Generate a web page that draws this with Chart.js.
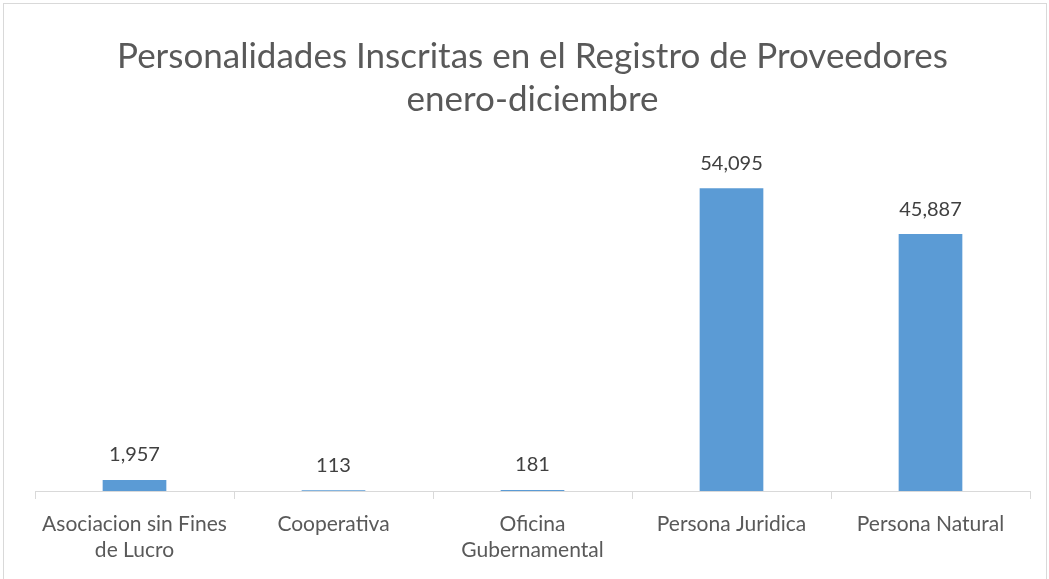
<!DOCTYPE html>
<html>
<head>
<meta charset="utf-8">
<script src="https://cdn.jsdelivr.net/npm/chart.js@4"></script>
<style>
  body { margin: 0; background: #fff; overflow: hidden; }
  #wrap { position: absolute; left: 3px; top: 3px; width: 1042px; height: 600px; border: 1px solid #d9d9d9; }
  canvas { display: block; }
</style>
</head>
<body>
<div id="wrap"><canvas id="chart" width="1042" height="590"></canvas></div>
<script>
// categories and values
const categories = [['Asociacion sin Fines', 'de Lucro'], 'Cooperativa', ['Oficina', 'Gubernamental'], 'Persona Juridica', 'Persona Natural'];
const inscritas = [1957, 113, 181, 54095, 45887];
const titleLines = ['Personalidades Inscritas en el Registro de Proveedores', 'enero-diciembre'];

const FONT = 'Lato, "Open Sans", sans-serif';

// value labels above bars
const barLabels = {
  id: 'barLabels',
  afterDatasetsDraw(chart) {
    const ctx = chart.ctx;
    const meta = chart.getDatasetMeta(0);
    ctx.save();
    ctx.font = '20px ' + FONT;
    ctx.fillStyle = '#404040';
    ctx.textAlign = 'center';
    ctx.textBaseline = 'middle';
    meta.data.forEach((bar, i) => {
      ctx.fillText(inscritas[i].toLocaleString('en-US'), bar.x, bar.y - 25);
    });
    ctx.restore();
  }
};

new Chart(document.getElementById('chart'), {
  type: 'bar',
  data: {
    labels: categories,
    datasets: [{ data: inscritas, backgroundColor: '#5b9bd5', categoryPercentage: 1, barPercentage: 0.32 }]
  },
  options: {
    responsive: false, animation: false,
    layout: { padding: { left: 31, right: 16, top: 0, bottom: 0 } },
    plugins: {
      legend: { display: false },
      tooltip: { enabled: false },
      title: {
        display: true, text: titleLines, color: '#595959',
        font: { family: FONT, size: 35, weight: 'normal', lineHeight: 1.23 },
        padding: { top: 31, bottom: 34 }
      }
    },
    scales: {
      y: { display: false, min: 0, max: 60000 },
      x: {
        afterFit: s => { s.height = 103; },
        grid: { drawOnChartArea: false, color: '#d9d9d9', tickLength: 8, offset: true },
        border: { color: '#d9d9d9' },
        ticks: { color: '#595959', padding: 12, maxRotation: 0, font: { family: FONT, size: 21, lineHeight: 1.24 } }
      }
    }
  },
  plugins: [barLabels]
});
</script>
</body>
</html>
